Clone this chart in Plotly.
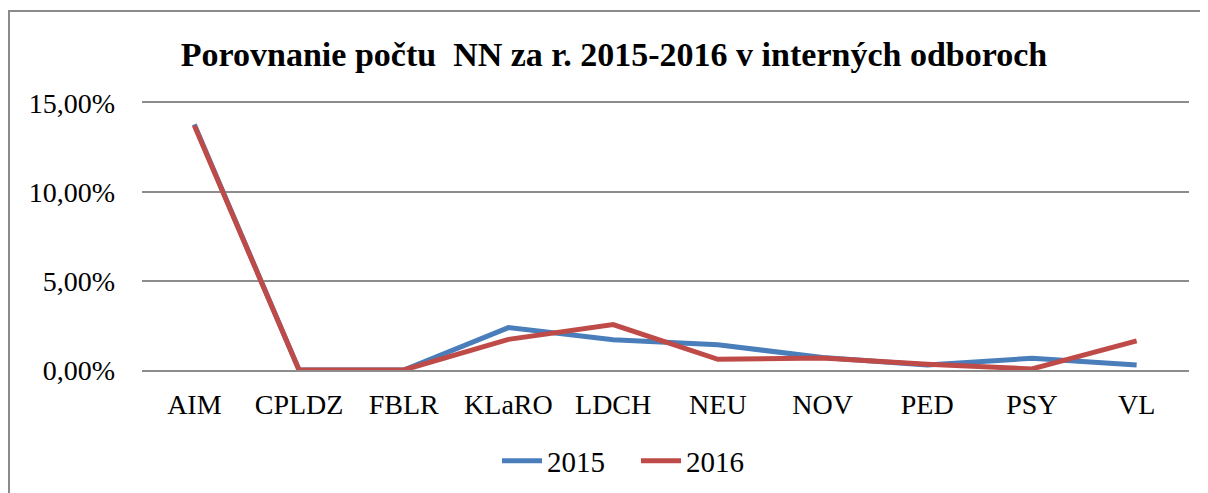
import plotly.graph_objects as go

# Odbory a podiel NN
odbory = ["AIM", "CPLDZ", "FBLR", "KLaRO", "LDCH", "NEU", "NOV", "PED", "PSY", "VL"]
rok_2015 = [0.1380, 0.0, 0.0, 0.0238, 0.0170, 0.0142, 0.0070, 0.0028, 0.0066, 0.0028]
rok_2016 = [0.1373, 0.0, 0.0, 0.0172, 0.0255, 0.0060, 0.0067, 0.0033, 0.0006, 0.0164]

# stranka ma okraj 8 px, preto je obrazok o 8 px mensi
OX, OY = 8, 8
W, H = 1208 - OX, 493 - OY
# oblast grafu v pixeloch (suradnice stranky)
x_l, x_r = 142 - OX, 1189 - OX
y_t, y_b = 103 - OY, 370 - OY

font = "Liberation Serif, Times New Roman, serif"
sivá = '#8c8c8c'

fig = go.Figure()

fig.add_trace(go.Scatter(
    x=odbory, y=rok_2015, mode='lines', name='2015',
    line=dict(color='#4a7ebb', width=5)
))
fig.add_trace(go.Scatter(
    x=odbory, y=rok_2016, mode='lines', name='2016',
    line=dict(color='#be4b48', width=5)
))

# ramcek okolo grafu
pw = x_r - x_l
ph = y_b - y_t
fig.add_shape(
    type='rect', xref='paper', yref='paper',
    x0=(1 - x_l) / pw, x1=(W + 10 - x_l) / pw,
    y0=(y_b - (H + 10)) / ph, y1=(y_b - 3) / ph,
    line=dict(color='#8a8a8a', width=2), fillcolor='rgba(0,0,0,0)', layer='below'
)

fig.update_layout(
    width=W, height=H,
    margin=dict(l=x_l, r=W - x_r, t=y_t, b=H - y_b, pad=0),
    paper_bgcolor='white', plot_bgcolor='white',
    separators=', ',
    font=dict(family=font, size=28, color='black'),
    title=dict(
        text='<b>Porovnanie počtu  NN za r. 2015-2016 v interných odboroch</b>',
        font=dict(family=font, size=34, color='black'),
        xref='container', yref='container', x=606 / W, y=1 - 46 / H,
        xanchor='center', yanchor='middle'
    ),
    xaxis=dict(
        range=[-0.5, 9.5], showgrid=False, zeroline=False, ticks='',
        showline=True, mirror=True, linecolor=sivá, linewidth=2,
        layer='below traces',
        tickfont=dict(size=28), ticklabelstandoff=8
    ),
    yaxis=dict(
        range=[0, 0.15], tickvals=[0, 0.05, 0.10, 0.15], tickformat='.2%',
        showgrid=True, gridcolor=sivá, gridwidth=2,
        zeroline=False, showline=False, ticks='',
        tickfont=dict(size=28), ticklabelstandoff=26
    ),
    legend=dict(
        orientation='h', xref='container', yref='container',
        x=628 / W, y=1 - 453 / H, xanchor='center', yanchor='middle',
        font=dict(size=29), itemwidth=40, tracegroupgap=0,
        entrywidth=84, entrywidthmode='pixels'
    ),
    showlegend=True
)

fig.write_html("out.html")
